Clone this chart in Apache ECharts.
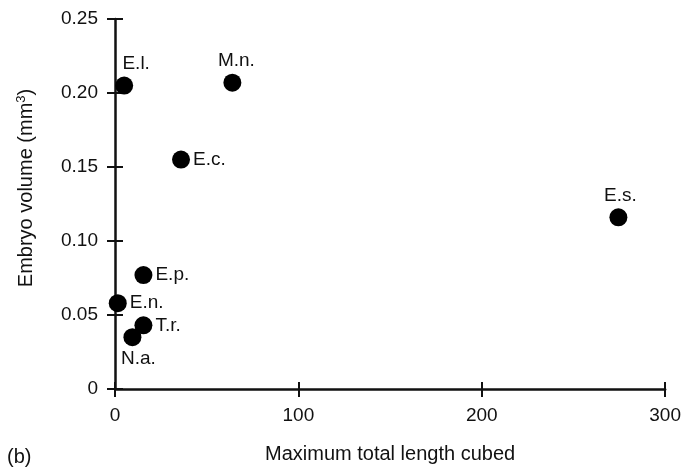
<!DOCTYPE html>
<html><head><meta charset="utf-8">
<script src="https://cdn.jsdelivr.net/npm/echarts@6/dist/echarts.min.js"></script>
<style>html,body{margin:0;padding:0;background:#fff}#c{width:684px;height:469px}</style>
</head><body><div id="c"></div>
<script>
const names = ['E.l.', 'M.n.', 'E.c.', 'E.s.', 'E.p.', 'E.n.', 'T.r.', 'N.a.'];
const xValues = [5, 64, 36, 274.5, 15.5, 1.5, 15.5, 9.5];
const yValues = [0.205, 0.207, 0.155, 0.116, 0.077, 0.058, 0.043, 0.035];
const xTicks = [0, 100, 200, 300];
const yTicks = [0, 0.05, 0.10, 0.15, 0.20, 0.25];

const labelPos = {'E.l.':'top','M.n.':'top','E.c.':'right','E.s.':'top','E.p.':'right','E.n.':'right','T.r.':'right','N.a.':'bottom'};
const labelOff = {'E.l.':[12,0],'M.n.':[4,0],'E.s.':[2,0],'N.a.':[6,0]};
const font = 'Liberation Sans, Arial, sans-serif';
const black = '#111';

const chart = echarts.init(document.getElementById('c'));
const data = names.map((n,i)=>({
  value:[xValues[i], yValues[i]], name:n,
  label:{show:true, position:labelPos[n], offset:labelOff[n]||[0,0], distance:3,
    formatter:n, color:black, fontFamily:font, fontSize:19}
}));
const yFmt = v => { const t = yTicks.find(t=>Math.abs(t-v)<1e-9); return t===0?'0':t.toFixed(2); };
const baseX = {type:'value', min:0, max:300, interval:100, gridIndex:0};
const baseY = {type:'value', min:0, max:0.25, interval:0.05, gridIndex:0};
chart.setOption({
  animation:false,
  backgroundColor:'#fff',
  grid:{left:115, right:15, top:19, bottom:79, containLabel:false},
  xAxis:[
    Object.assign({}, baseX, {
      position:'bottom',
      name:'Maximum total length cubed', nameLocation:'middle', nameGap:55,
      nameTextStyle:{color:black, fontFamily:font, fontSize:20},
      axisLine:{show:true, onZero:false, lineStyle:{color:black, width:2.5}},
      axisTick:{show:true, length:8, lineStyle:{color:black, width:2}},
      axisLabel:{color:black, fontFamily:font, fontSize:19, margin:17,
        formatter:v=>xTicks.includes(v)?String(v):''},
      splitLine:{show:false}
    }),
    Object.assign({}, baseX, {
      position:'bottom',
      axisLine:{show:false, onZero:false},
      axisTick:{show:true, inside:true, length:7, lineStyle:{color:black, width:2}},
      axisLabel:{show:false}, splitLine:{show:false}
    })
  ],
  yAxis:[
    Object.assign({}, baseY, {
      position:'left',
      name:'Embryo volume (mm{sup|3})', nameLocation:'middle', nameGap:78,
      nameTextStyle:{color:black, fontFamily:font, fontSize:20, padding:[0,0,0,32],
        rich:{sup:{fontSize:13, verticalAlign:'top', color:black, fontFamily:font, padding:[0,0,9,0]}}},
      axisLine:{show:true, onZero:false, lineStyle:{color:black, width:2.5}},
      axisTick:{show:true, length:8, lineStyle:{color:black, width:2}},
      axisLabel:{color:black, fontFamily:font, fontSize:19, margin:17, formatter:yFmt},
      splitLine:{show:false}
    }),
    Object.assign({}, baseY, {
      position:'left',
      axisLine:{show:false, onZero:false},
      axisTick:{show:true, inside:true, length:8, lineStyle:{color:black, width:2}},
      axisLabel:{show:false}, splitLine:{show:false}
    })
  ],
  graphic:[{type:'text', left:7, top:447, style:{text:'(b)', fill:black, font:'20px '+font}}],
  series:[{
    type:'scatter', xAxisIndex:0, yAxisIndex:0,
    symbol:'circle', symbolSize:18,
    itemStyle:{color:'#000', opacity:1},
    data:data, z:5
  }]
});
</script></body></html>
